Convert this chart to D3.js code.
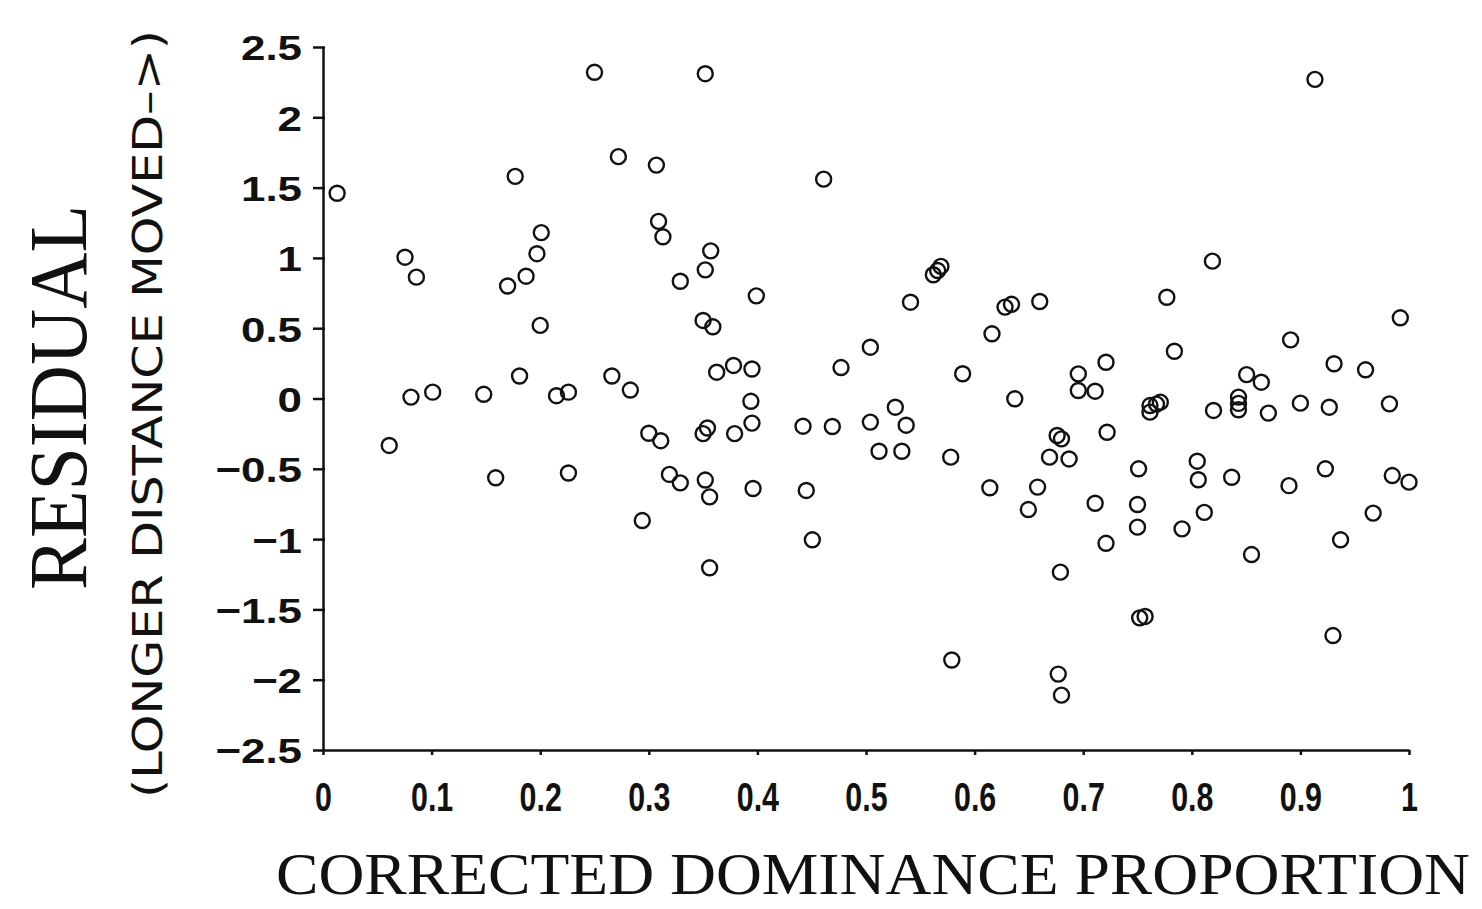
<!DOCTYPE html>
<meta charset="utf-8">
<style>
  body { margin: 0; background: #fff; }
  svg { display: block; }
  .axis path, .axis line { stroke: #111; stroke-width: 2.5; fill: none; }
  .axis text { fill: #111; font-family: "Liberation Sans", Arial, sans-serif; font-weight: bold; font-size: 36px; }
  .dot { fill: none; stroke: #111; stroke-width: 2.4; }
  .title { fill: #111; }
</style>
<body>
<script src="https://cdn.jsdelivr.net/npm/d3@7"></script>
<script>

// corrected dominance proportion (x) and residual (y)
var proportion = [0.013, 0.250, 0.352, 0.272, 0.307, 0.177, 0.309, 0.313, 0.201, 0.197,
  0.187, 0.170, 0.0755, 0.086, 0.329, 0.200, 0.181, 0.081, 0.101, 0.148,
  0.215, 0.226, 0.266, 0.283, 0.061, 0.159, 0.226, 0.300, 0.311, 0.319,
  0.329, 0.294, 0.461, 0.357, 0.352, 0.399, 0.350, 0.359, 0.3625, 0.378,
  0.395, 0.394, 0.477, 0.504, 0.541, 0.562, 0.566, 0.569, 0.616, 0.628,
  0.634, 0.660, 0.589, 0.637, 0.527, 0.395, 0.350, 0.354, 0.379, 0.442,
  0.469, 0.504, 0.537, 0.512, 0.533, 0.578, 0.676, 0.680, 0.669, 0.687,
  0.352, 0.356, 0.396, 0.445, 0.4506, 0.356, 0.614, 0.658, 0.6495, 0.679,
  0.579, 0.677, 0.680, 0.9134, 0.819, 0.777, 0.992, 0.891, 0.784, 0.931,
  0.960, 0.721, 0.6955, 0.6955, 0.711, 0.8505, 0.864, 0.7615, 0.7675, 0.771,
  0.7615, 0.820, 0.843, 0.843, 0.843, 0.8705, 0.900, 0.9266, 0.982, 0.722,
  0.751, 0.805, 0.806, 0.8367, 0.8895, 0.923, 0.9846, 1.000, 0.711, 0.750,
  0.750, 0.721, 0.791, 0.8115, 0.855, 0.937, 0.967, 0.752, 0.757, 0.930];

var residual = [1.46, 2.32, 2.31, 1.72, 1.66, 1.58, 1.26, 1.15, 1.18, 1.03,
  0.87, 0.80, 1.005, 0.863, 0.834, 0.52, 0.16, 0.01, 0.045, 0.03,
  0.02, 0.045, 0.16, 0.06, -0.334, -0.564, -0.53, -0.247, -0.30, -0.54,
  -0.60, -0.868, 1.56, 1.05, 0.915, 0.73, 0.555, 0.51, 0.187, 0.235,
  0.21, -0.02, 0.22, 0.365, 0.685, 0.88, 0.91, 0.94, 0.46, 0.65,
  0.67, 0.69, 0.176, -0.002, -0.062, -0.175, -0.25, -0.21, -0.25, -0.197,
  -0.199, -0.168, -0.19, -0.375, -0.375, -0.417, -0.263, -0.287, -0.417, -0.43,
  -0.58, -0.70, -0.64, -0.654, -1.005, -1.204, -0.635, -0.63, -0.79, -1.235,
  -1.86, -1.96, -2.11, 2.27, 0.977, 0.72, 0.574, 0.417, 0.336, 0.247,
  0.204, 0.258, 0.175, 0.057, 0.052, 0.17, 0.116, -0.05, -0.04, -0.026,
  -0.097, -0.085, 0.01, -0.035, -0.08, -0.104, -0.033, -0.062, -0.038, -0.24,
  -0.50, -0.446, -0.578, -0.56, -0.62, -0.50, -0.548, -0.595, -0.745, -0.754,
  -0.915, -1.03, -0.927, -0.81, -1.11, -1.005, -0.815, -1.56, -1.55, -1.686];

var xTicks = [0, 0.1, 0.2, 0.3, 0.4, 0.5, 0.6, 0.7, 0.8, 0.9, 1];
var yTicks = [2.5, 2, 1.5, 1, 0.5, 0, -0.5, -1, -1.5, -2, -2.5];

var xTitle = "CORRECTED DOMINANCE PROPORTION",
    yTitle = "RESIDUAL",
    ySubtitle = "(LONGER DISTANCE MOVED\u2013>)";

var W = 1482, H = 909;
var margin = {top: 47, right: 73, bottom: 159, left: 323},
    width = W - margin.left - margin.right,
    height = H - margin.top - margin.bottom;

var x = d3.scaleLinear().domain([0, 1]).range([0, width]);
var y = d3.scaleLinear().domain([-2.5, 2.5]).range([height, 0]);

var svg = d3.select("body").append("svg")
    .attr("width", W)
    .attr("height", H);

var g = svg.append("g")
    .attr("transform", "translate(" + margin.left + "," + margin.top + ")");

// minus sign as a long dash, like the plotter output
var fmt = function(d) { return String(d).replace("-", "\u2212"); };

var yAxis = g.append("g")
    .attr("class", "axis")
    .call(d3.axisLeft(y).tickValues(yTicks).tickFormat(fmt).tickSize(10).tickSizeOuter(0).tickPadding(12));
yAxis.selectAll(".tick line").attr("x2", -10).attr("x1", 2);
yAxis.selectAll(".tick text")
    .attr("dy", "0.36em")
    .attr("transform", "scale(1.22,1)")
    .attr("x", -21 / 1.22);

var xAxis = g.append("g")
    .attr("class", "axis")
    .attr("transform", "translate(0," + height + ")")
    .call(d3.axisBottom(x).tickValues(xTicks).tickFormat(fmt).tickSize(5).tickSizeOuter(0).tickPadding(0));
xAxis.selectAll(".tick text")
    .attr("y", 61)
    .attr("dy", 0)
    .style("font-size", "40px")
    .attr("transform", "scale(0.76,1)");

// open circles
var pts = proportion.map(function(p, i) { return {x: p, y: residual[i]}; });
g.append("g")
  .selectAll("circle")
  .data(pts)
  .enter().append("circle")
    .attr("class", "dot")
    .attr("cx", function(d) { return x(d.x); })
    .attr("cy", function(d) { return y(d.y); })
    .attr("r", 7.5);

// titles
svg.append("text")
    .attr("class", "title")
    .attr("x", 276)
    .attr("y", 894)
    .attr("textLength", 1194)
    .attr("lengthAdjust", "spacingAndGlyphs")
    .style("font-family", "'Liberation Serif', 'DejaVu Serif', serif")
    .style("font-size", "59px")
    .text(xTitle);

svg.append("text")
    .attr("class", "title")
    .attr("transform", "translate(86,590) rotate(-90)")
    .attr("textLength", 385)
    .attr("lengthAdjust", "spacingAndGlyphs")
    .style("font-family", "'Liberation Serif', 'DejaVu Serif', serif")
    .style("font-size", "82px")
    .text(yTitle);

svg.append("text")
    .attr("class", "title")
    .attr("transform", "translate(162,798) rotate(-90)")
    .attr("textLength", 768)
    .attr("lengthAdjust", "spacingAndGlyphs")
    .style("font-family", "'DejaVu Sans', sans-serif")
    .style("font-size", "41px")
    .text(ySubtitle);

</script>
